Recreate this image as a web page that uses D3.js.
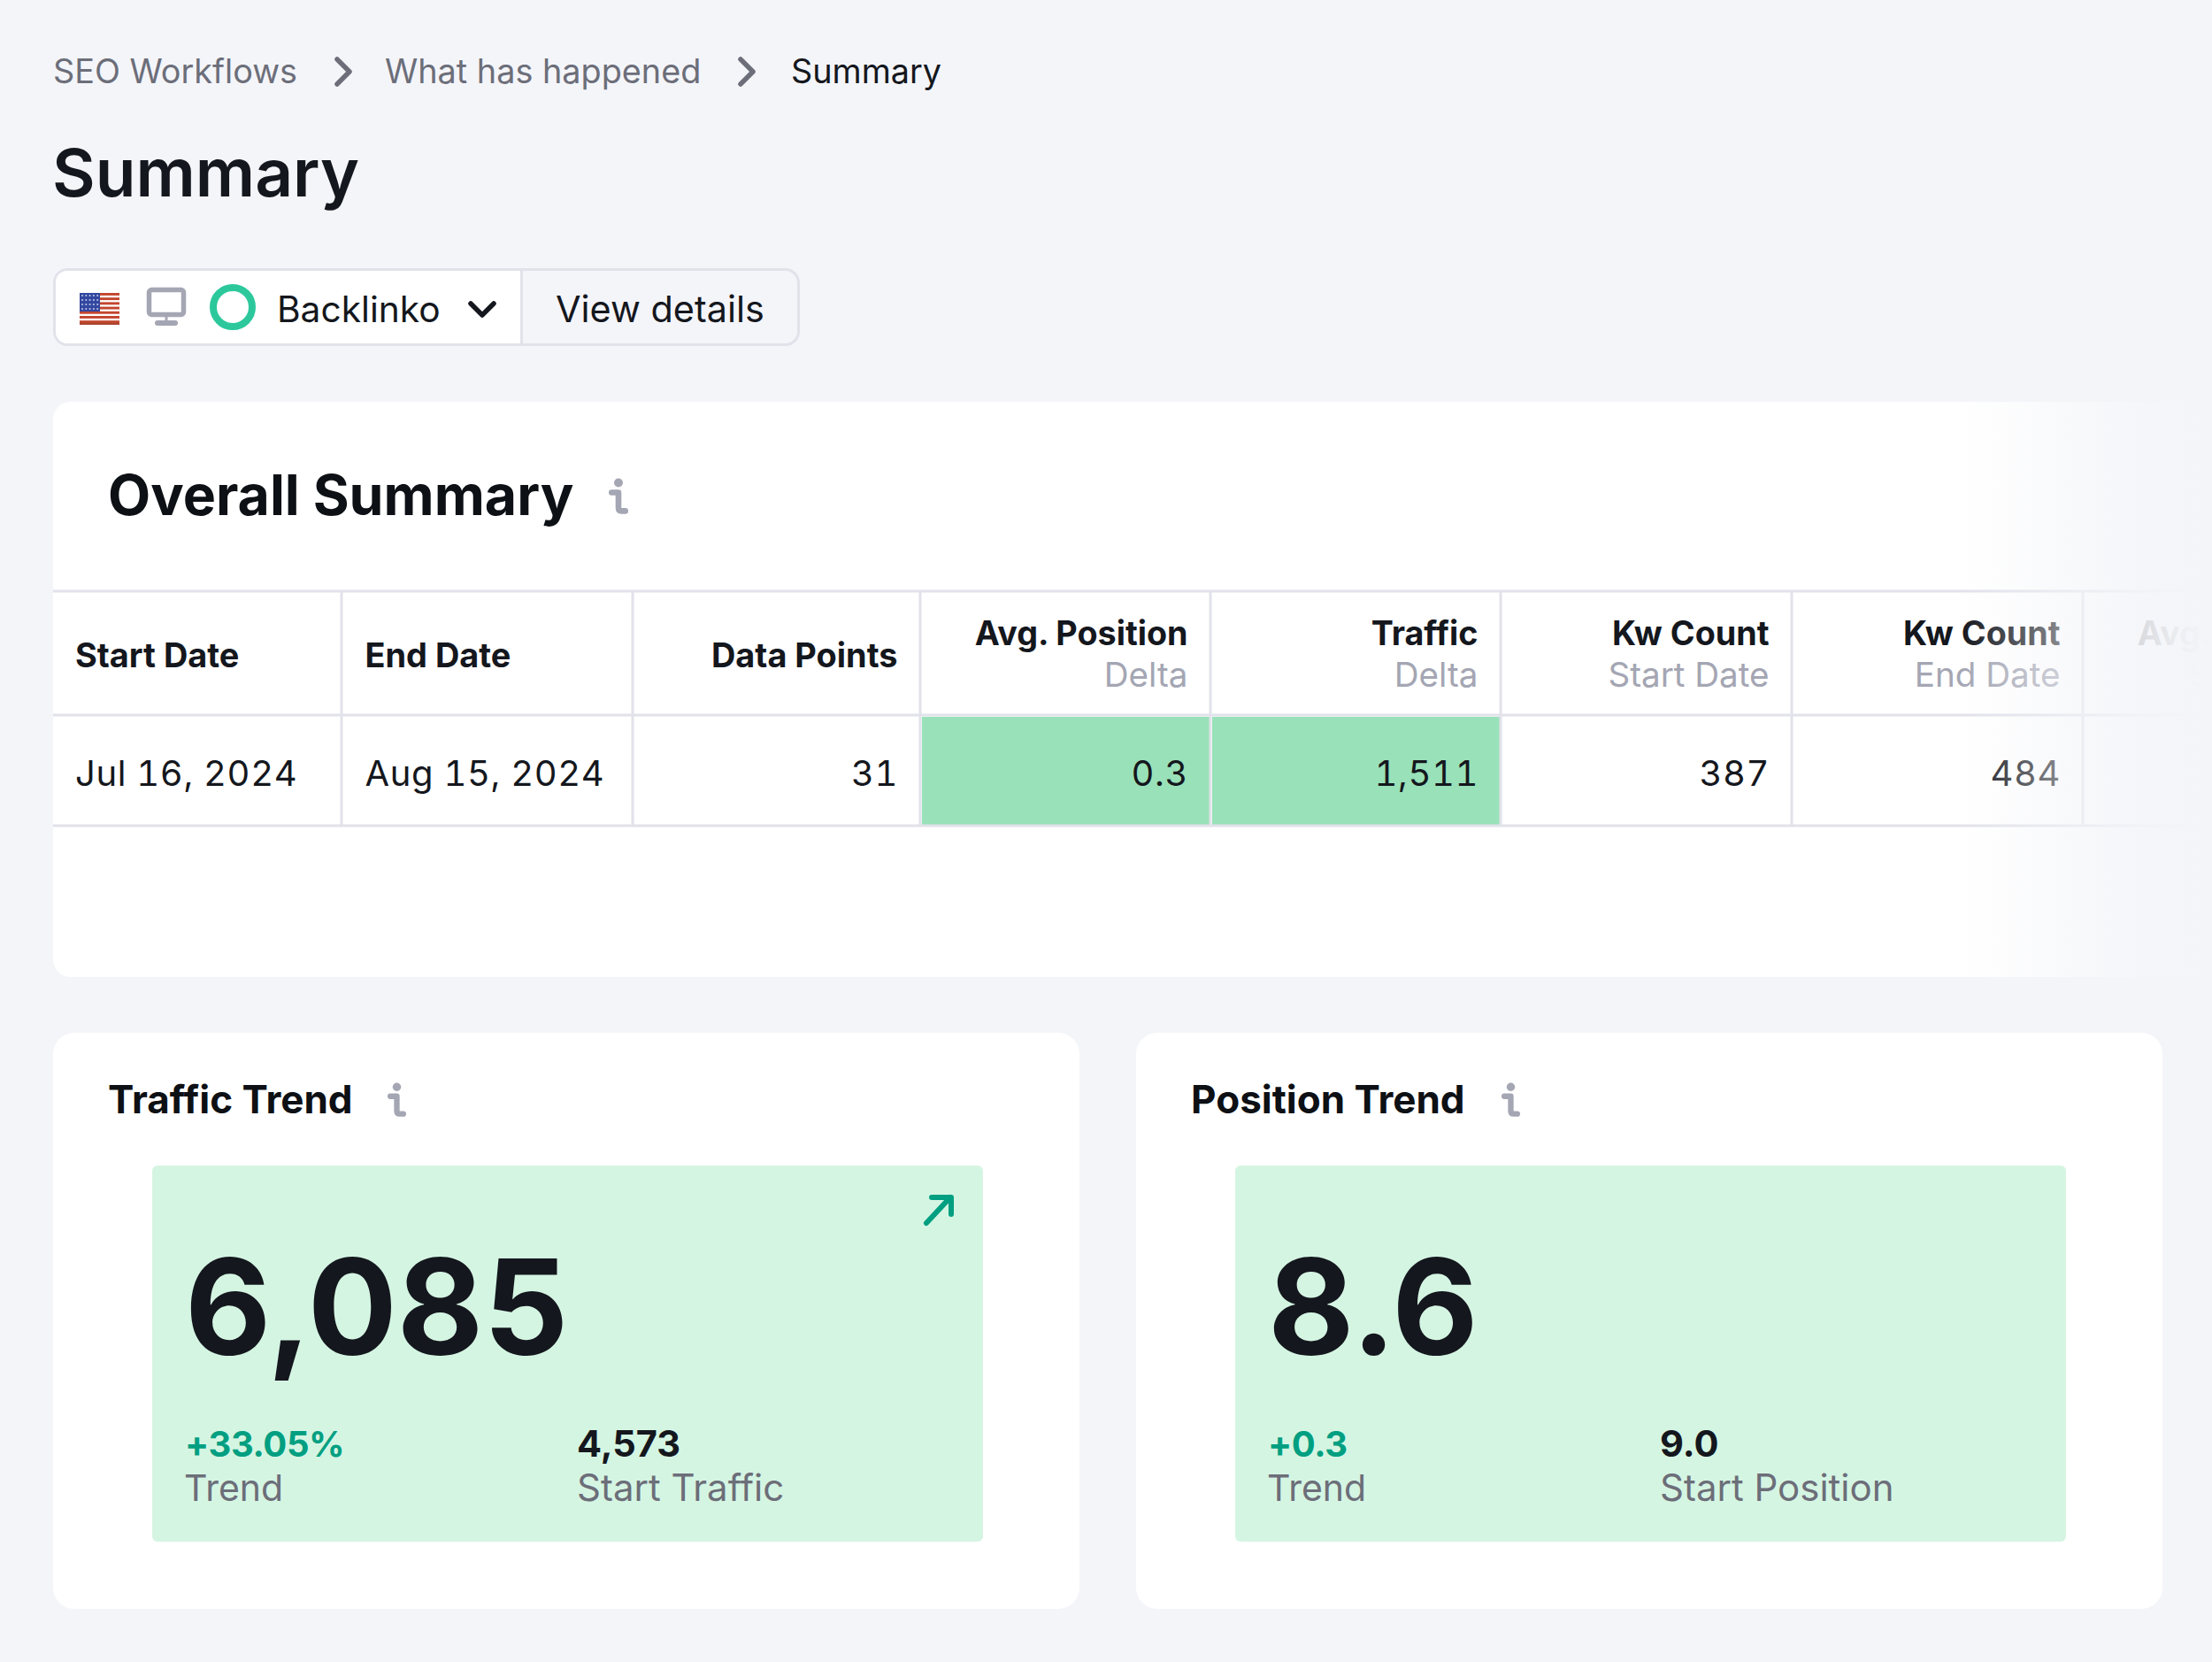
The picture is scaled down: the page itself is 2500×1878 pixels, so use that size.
<!DOCTYPE html>
<html>
<head>
<meta charset="utf-8">
<title>Summary</title>
<script src="https://cdn.jsdelivr.net/npm/d3@7"></script>
<style>
  html, body { margin: 0; padding: 0; background: #f4f5f9; }
  svg { display: block; }
  text { font-family: Inter, "Noto Sans", sans-serif; }
  .tnum { font-variant-numeric: tabular-nums; font-feature-settings: "tnum"; }
</style>
</head>
<body>
<div id="chart"></div>
<script>
// breadcrumb
var crumbs = ["SEO Workflows", "What has happened", "Summary"];
var pageTitle = "Summary";
var projectName = "Backlinko";
var buttonLabel = "View details";

// table
var tableTitle = "Overall Summary";
var columnNames = ["Start Date", "End Date", "Data Points", "Avg. Position", "Traffic", "Kw Count", "Kw Count ", "Avg. Position "];
var columnSubs = ["", "", "", "Delta", "Delta", "Start Date", "End Date", "Start Date"];
var rowValues = ["Jul 16, 2024", "Aug 15, 2024", "31", "0.3", "1,511", "387", "484", "9.0"];
var leftColumns = ["Start Date", "End Date"];
var deltaColumns = ["Avg. Position", "Traffic"];

// trend cards
var trendTitles = ["Traffic Trend", "Position Trend"];
var trendValues = ["6,085", "8.6"];
var trendChanges = ["+33.05%", "+0.3"];
var trendStarts = ["4,573", "9.0"];
var trendStartLabels = ["Start Traffic", "Start Position"];
var trendArrows = [true, false];

var bg = "#f4f5f9", line = "#e1e2ea", ink = "#14171d", gray = "#6c6e79", soft = "#a4a6b3";

var svg = d3.select("#chart").append("svg").attr("width", 2500).attr("height", 1878);
svg.append("rect").attr("width", 2500).attr("height", 1878).attr("fill", bg);

function label(x, y, str, size, weight, color, anchor, spacing) {
  return svg.append("text").attr("x", x).attr("y", y).text(str)
    .attr("font-size", size).attr("font-weight", weight).attr("fill", color)
    .attr("text-anchor", anchor || "start")
    .attr("letter-spacing", spacing || 0);
}

function chevronRight(x, y) {
  svg.append("path").attr("d", `M${x} ${y}l14 14l-14 14`)
    .attr("fill", "none").attr("stroke", gray).attr("stroke-width", 5.5)
    .attr("stroke-linecap", "round").attr("stroke-linejoin", "round");
}

function infoIcon(x, y, k) {
  var g = svg.append("g").attr("transform", `translate(${x},${y}) scale(${k})`);
  g.append("circle").attr("cx", 10).attr("cy", 5).attr("r", 4.5).attr("fill", soft);
  g.append("path").attr("d", "M3 15h7v16q0 3 3 3h4")
    .attr("fill", "none").attr("stroke", soft).attr("stroke-width", 6)
    .attr("stroke-linecap", "round").attr("stroke-linejoin", "round");
}

// Breadcrumb and page title
var crumbX = [60, 435, 894];
crumbs.forEach((c, i) => {
  label(crumbX[i], 94, c, 37.8, 400, i == 2 ? ink : gray);
});
chevronRight(381, 67);
chevronRight(837, 67);
label(59, 222, pageTitle, 74.8, 600, ink);

// Project selector
svg.append("rect").attr("x", 61.5).attr("y", 304.5).attr("width", 841).attr("height", 85)
  .attr("rx", 15).attr("fill", bg).attr("stroke", line).attr("stroke-width", 3);
svg.append("path").attr("d", "M588 306H76a13 13 0 0 0 -13 13V375a13 13 0 0 0 13 13H588Z").attr("fill", "#fff");
svg.append("line").attr("x1", 589.5).attr("x2", 589.5).attr("y1", 304).attr("y2", 390)
  .attr("stroke", line).attr("stroke-width", 3);

// flag
var stripes = d3.range(7);
svg.selectAll(".stripe").data(stripes).join("rect").attr("class", "stripe")
  .attr("x", 90).attr("width", 45).attr("y", d => 331 + d * 5.2).attr("height", 2.9).attr("fill", "#c2452d");
svg.append("rect").attr("x", 90).attr("y", 331).attr("width", 23).attr("height", 21).attr("fill", "#33479f");
d3.range(4).forEach(r => d3.range(5).forEach(c => {
  svg.append("circle").attr("cx", 93 + c * 4.3).attr("cy", 334 + r * 5).attr("r", 1.1).attr("fill", "#b9c2ea");
}));
svg.append("rect").attr("x", 90).attr("y", 365).attr("width", 45).attr("height", 2).attr("fill", "#a9442f");

// monitor
svg.append("rect").attr("x", 168.5).attr("y", 327.5).attr("width", 39).attr("height", 28).attr("rx", 3)
  .attr("fill", "#fff").attr("stroke", soft).attr("stroke-width", 5.5);
svg.append("path").attr("d", "M188 358v5").attr("stroke", soft).attr("stroke-width", 3);
svg.append("rect").attr("x", 175).attr("y", 362).attr("width", 26).attr("height", 6).attr("rx", 3).attr("fill", soft);

// ring
svg.append("circle").attr("cx", 263).attr("cy", 347).attr("r", 22).attr("fill", "none")
  .attr("stroke", "#2cc89c").attr("stroke-width", 8);
label(313, 363.5, projectName, 40.7, 400, ink);
svg.append("path").attr("d", "M532 343l13 13l13 -13").attr("fill", "none").attr("stroke", ink)
  .attr("stroke-width", 5.5).attr("stroke-linecap", "round").attr("stroke-linejoin", "round");
label(628, 363.5, buttonLabel, 41.4, 400, ink);

// Overall summary card
svg.append("rect").attr("x", 60).attr("y", 454).attr("width", 2700).attr("height", 650).attr("rx", 20).attr("fill", "#fff");
label(122, 582, tableTitle, 62.6, 700, "#0d1014");
infoIcon(688, 540, 1.1);

// column edges, they are not quite even
var columnEdges = [60, 386, 715, 1040, 1368, 1696, 2025, 2354, 2682];
var xCol = d3.scaleOrdinal().domain(columnNames).range(columnEdges);
var xColEnd = d3.scaleOrdinal().domain(columnNames).range(columnEdges.slice(1));
var yRow = d3.scaleOrdinal().domain(["header", "row", "end"]).range([668, 808, 933]);

// highlighted delta cells
svg.selectAll(".delta").data(columnNames.filter(c => deltaColumns.includes(c))).join("rect")
  .attr("class", "delta")
  .attr("x", d => xCol(d) + 2).attr("width", d => xColEnd(d) - xCol(d) - 2)
  .attr("y", yRow("row") + 2).attr("height", yRow("end") - yRow("row") - 3)
  .attr("fill", "#99e1b9");

// grid lines
yRow.domain().forEach(r => {
  svg.append("line").attr("x1", 60).attr("x2", 2500).attr("y1", yRow(r)).attr("y2", yRow(r))
    .attr("stroke", line).attr("stroke-width", 3);
});
columnNames.slice(1).forEach(c => {
  svg.append("line").attr("x1", xCol(c)).attr("x2", xCol(c)).attr("y1", yRow("header")).attr("y2", yRow("end"))
    .attr("stroke", line).attr("stroke-width", 3);
});

// header and value text
columnNames.forEach((c, i) => {
  var isLeft = leftColumns.includes(c);
  var tx = isLeft ? xCol(c) + (i == 0 ? 25 : 26.5) : xColEnd(c) - 25.5;
  var anchor = isLeft ? "start" : "end";
  if (columnSubs[i]) {
    label(tx, 729, c.trim(), 37.7, 650, ink, anchor);
    label(tx, 776, columnSubs[i], 38.6, 400, soft, anchor);
  } else {
    label(tx, 754, c, 37.9, 650, ink, anchor);
  }
  label(isLeft ? tx : tx + 0.5, 888, rowValues[i], 40, 400, ink, anchor, 0.6).attr("class", "tnum");
});

// Right hand fade over the table
var fade = svg.append("defs").append("linearGradient").attr("id", "fade");
[[0, 0], [0.39, 0.5], [0.71, 0.88], [0.9, 0.98], [1, 1]].forEach(s => {
  fade.append("stop").attr("offset", s[0]).attr("stop-color", bg).attr("stop-opacity", s[1]);
});
svg.append("rect").attr("x", 2216).attr("y", 454).attr("width", 284).attr("height", 650).attr("fill", "url(#fade)");

// Trend cards
var xCard = d3.scaleBand().domain(trendTitles).range([60, 2444]).paddingInner(64 / 1224);

trendTitles.forEach((t, i) => {
  var x = xCard(t);
  svg.append("rect").attr("x", x).attr("y", 1167).attr("width", xCard.bandwidth()).attr("height", 651)
    .attr("rx", 24).attr("fill", "#fff");
  label(x + 62, 1258, t, 44, 650, "#0d1014");
  svg.append("rect").attr("x", x + 112).attr("y", 1317).attr("width", 939).attr("height", 425)
    .attr("rx", 6).attr("fill", "#d5f5e3");
  label(x + 149, 1531, trendValues[i], 150, 700, ink);
  label(x + 149, 1646, trendChanges[i], 40, 650, "#009f81", "start", -0.4);
  label(x + 148, 1696, "Trend", 41, 400, gray);
  label(x + 592, 1646, trendStarts[i], 41.5, 650, ink);
  label(x + 592, 1696, trendStartLabels[i], 42, 400, gray);
  if (trendArrows[i]) {
    svg.append("path").attr("d", `M${x + 987} 1382L${x + 1014} 1353M${x + 993} 1353H${x + 1015}V1372`)
      .attr("fill", "none").attr("stroke", "#009f81").attr("stroke-width", 6)
      .attr("stroke-linecap", "round").attr("stroke-linejoin", "round");
  }
});
infoIcon(438, 1223, 1.05);
infoIcon(1697, 1223, 1.05);
</script>
</body>
</html>
